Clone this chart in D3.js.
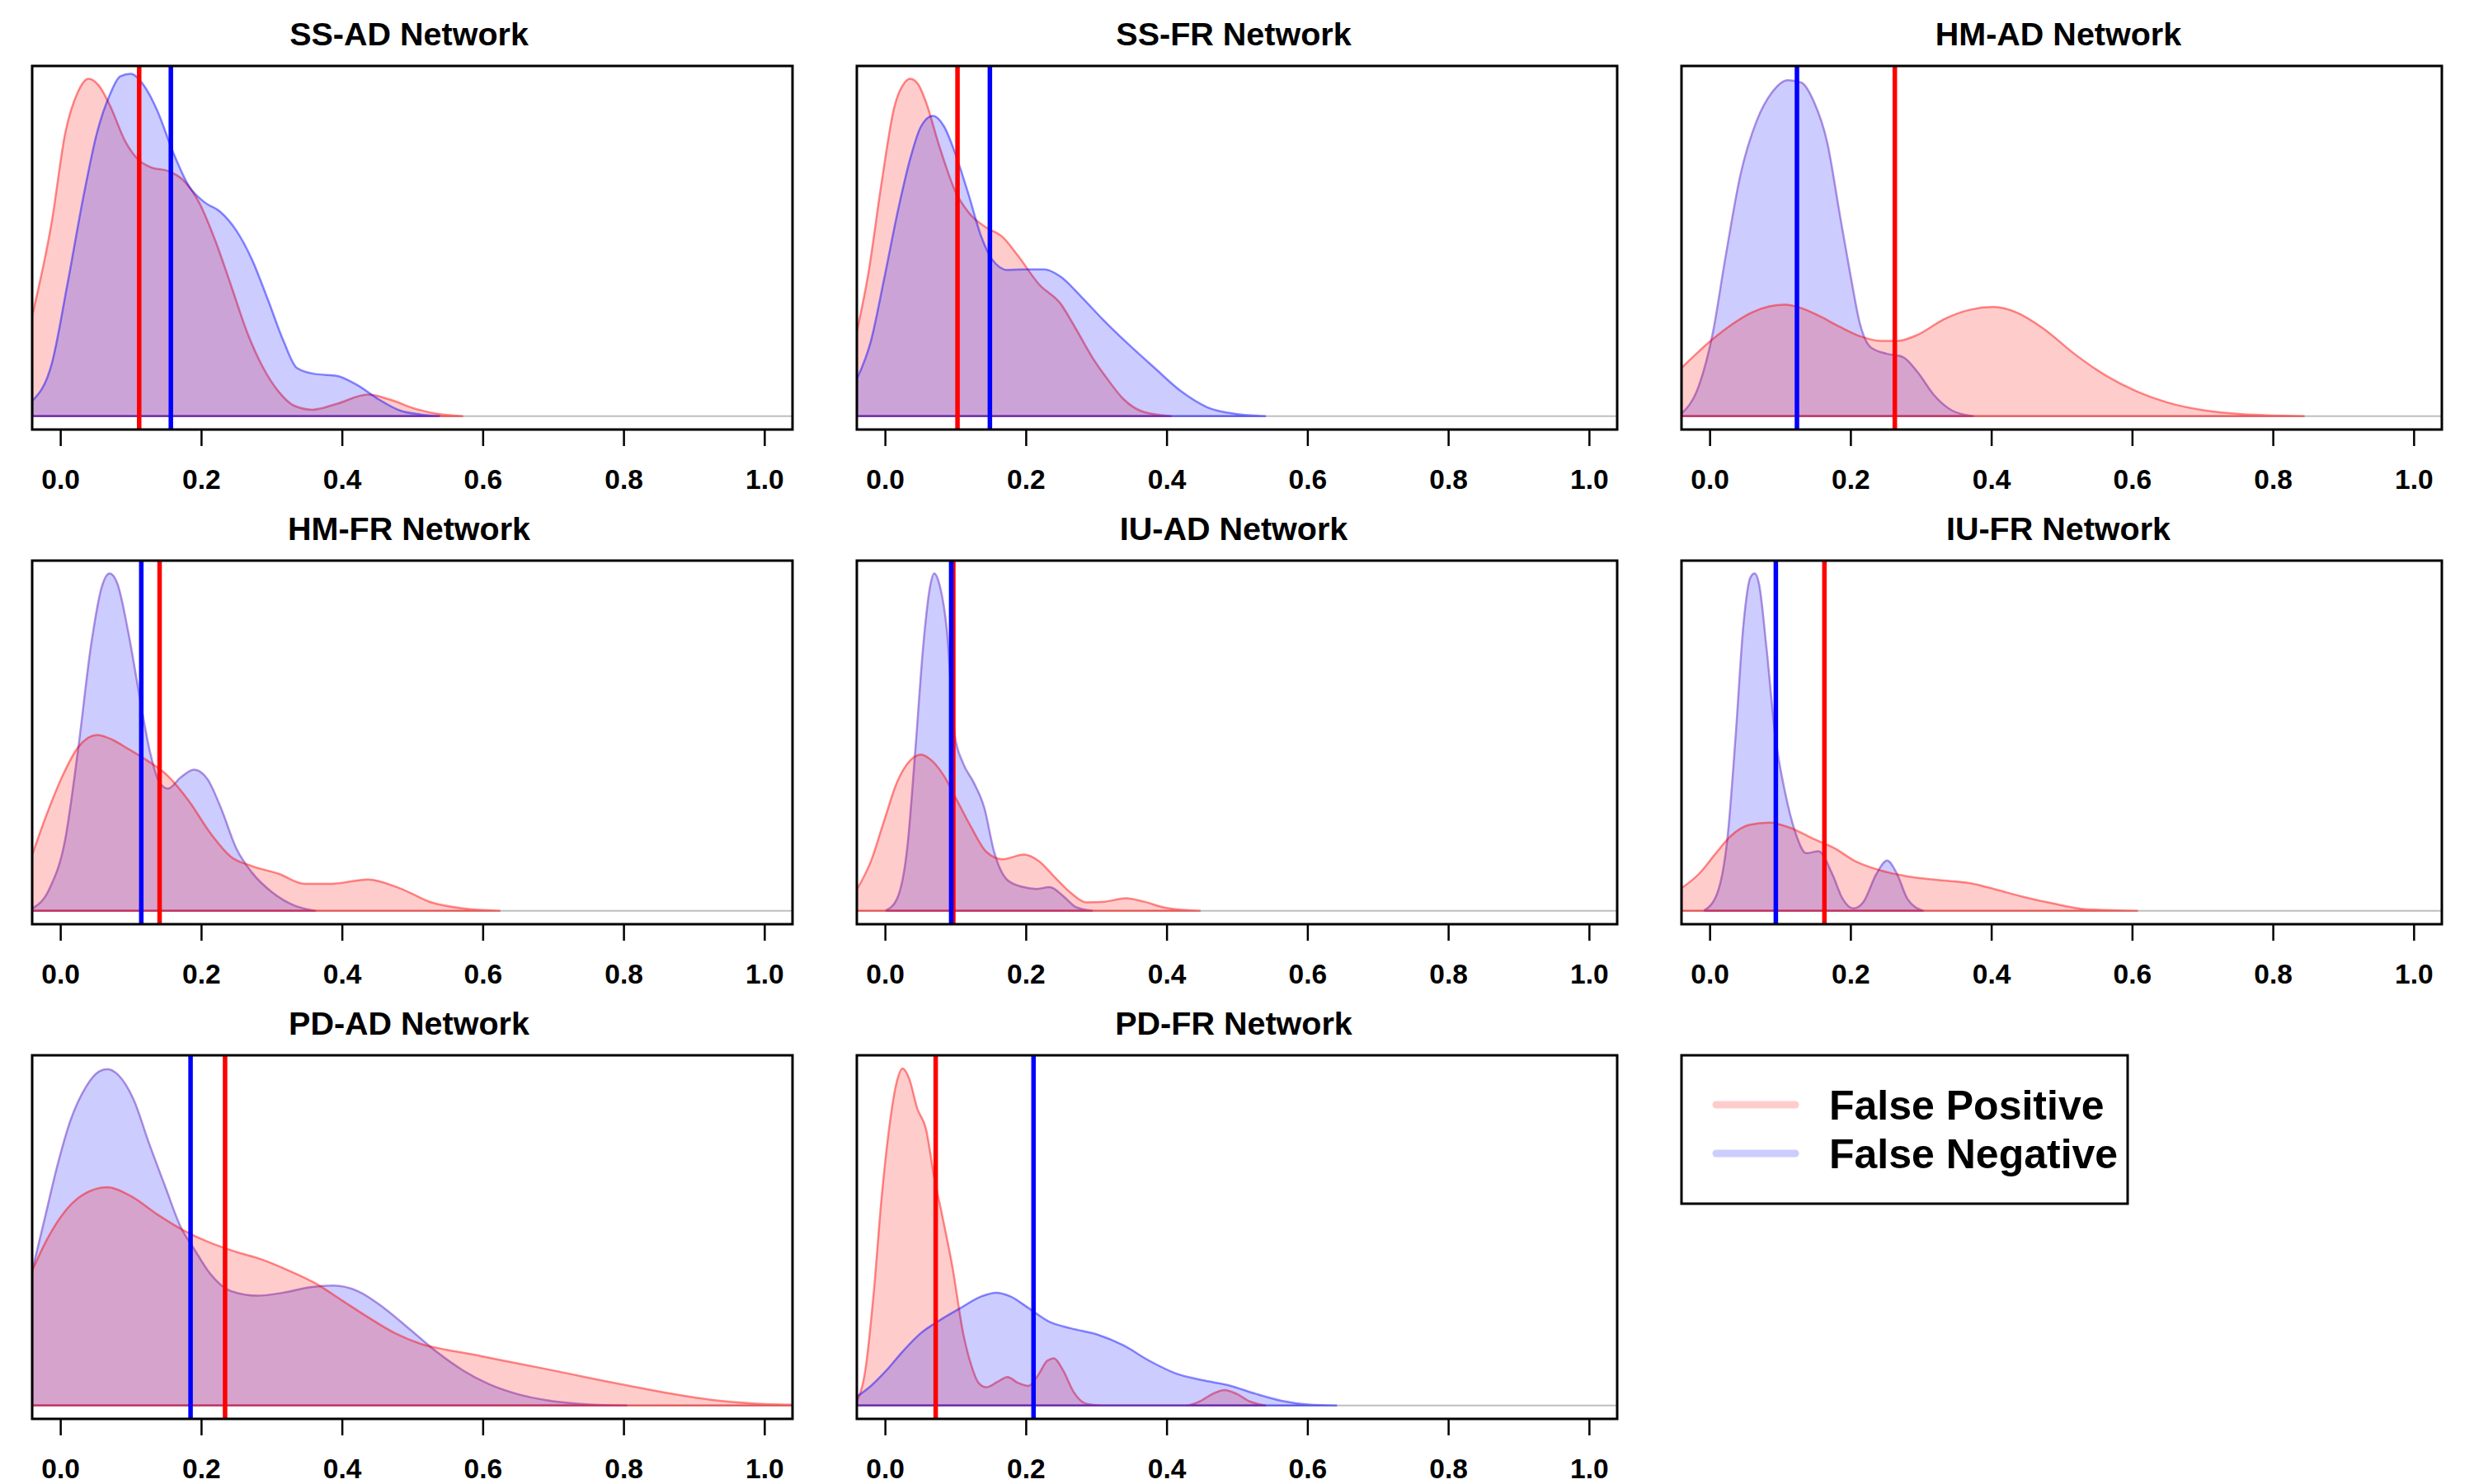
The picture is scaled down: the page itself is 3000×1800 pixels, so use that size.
<html><head>
<title>False positive / false negative densities</title>
<script src="https://d3js.org/d3.v7.min.js"></script>
<style>
  body { margin: 0; background: white; }
  text { font-family: "Liberation Sans", Arial, sans-serif; font-weight: bold; }
</style>
</head>
<body>
<svg id="plot" width="3000" height="1800"></svg>

<script>

// ------ DATA (density scaled so the panel max ~ 1) ------
const panelTitles = ["SS-AD Network", "SS-FR Network", "HM-AD Network",
                     "HM-FR Network", "IU-AD Network", "IU-FR Network",
                     "PD-AD Network", "PD-FR Network"];
const tickValues = [0.0, 0.2, 0.4, 0.6, 0.8, 1.0];
const legendLabels = ["False Positive", "False Negative"];

// mean lines
const fpMeans = [0.112, 0.103, 0.263, 0.141, 0.097, 0.163, 0.234, 0.072];
const fnMeans = [0.157, 0.149, 0.124, 0.115, 0.094, 0.094, 0.185, 0.211];
// which polygon was drawn last in each panel
const topSeries = ["FN", "FN", "FP", "FP", "FP", "FP", "FP", "FN"];

const ssadFP = [[-0.04,0.298],[-0.012,0.579],[0.007,0.841],[0.025,0.963],[0.040,1.002],[0.055,0.981],
  [0.070,0.925],[0.093,0.813],[0.111,0.761],[0.130,0.738],[0.153,0.728],[0.175,0.700],[0.197,0.635],
  [0.220,0.522],[0.242,0.391],[0.265,0.251],[0.287,0.148],[0.310,0.073],[0.332,0.031],[0.358,0.019],
  [0.392,0.036],[0.437,0.064],[0.467,0.050],[0.504,0.022],[0.534,0.007],[0.571,0]];
const ssadFN = [[-0.04,0.045],[-0.012,0.157],[0.010,0.391],[0.033,0.654],[0.052,0.841],[0.070,0.953],
  [0.085,1.009],[0.100,1.017],[0.119,0.981],[0.138,0.906],[0.160,0.785],[0.183,0.682],[0.205,0.635],
  [0.227,0.607],[0.250,0.551],[0.272,0.466],[0.295,0.345],[0.317,0.223],[0.336,0.143],[0.362,0.125],
  [0.392,0.120],[0.422,0.092],[0.452,0.050],[0.482,0.017],[0.512,0.005],[0.538,0]];

const ssfrFP = [[-0.04,0.251],[-0.024,0.419],[-0.005,0.691],[0.013,0.916],[0.028,0.991],[0.036,1.002],
  [0.047,0.986],[0.058,0.934],[0.077,0.803],[0.099,0.672],[0.122,0.597],[0.144,0.560],[0.167,0.532],
  [0.189,0.476],[0.219,0.391],[0.249,0.335],[0.271,0.260],[0.294,0.176],[0.316,0.110],[0.339,0.050],
  [0.368,0.012],[0.406,0]];
const ssfrFN = [[-0.04,0.110],[-0.020,0.223],[-0.001,0.410],[0.017,0.597],[0.036,0.766],[0.051,0.860],
  [0.068,0.892],[0.084,0.860],[0.099,0.785],[0.118,0.663],[0.137,0.532],[0.152,0.466],[0.174,0.434],
  [0.197,0.436],[0.226,0.436],[0.249,0.415],[0.279,0.354],[0.309,0.288],[0.346,0.213],[0.383,0.143],
  [0.421,0.073],[0.458,0.026],[0.496,0.007],[0.540,0]];

const hmadFP = [[-0.04,0.143],[-0.019,0.185],[0.004,0.228],[0.030,0.270],[0.059,0.307],[0.085,0.326],
  [0.107,0.331],[0.130,0.321],[0.155,0.298],[0.185,0.265],[0.214,0.237],[0.244,0.223],[0.266,0.223],
  [0.296,0.242],[0.333,0.288],[0.370,0.316],[0.403,0.324],[0.437,0.307],[0.474,0.260],[0.518,0.185],
  [0.563,0.120],[0.607,0.073],[0.651,0.040],[0.703,0.017],[0.755,0.006],[0.844,0]];
const hmadFN = [[-0.04,0.007],[-0.015,0.092],[0.004,0.242],[0.022,0.466],[0.044,0.719],[0.067,0.878],
  [0.089,0.963],[0.111,0.998],[0.130,0.991],[0.148,0.934],[0.167,0.813],[0.185,0.597],[0.200,0.419],
  [0.214,0.270],[0.229,0.204],[0.252,0.185],[0.274,0.176],[0.296,0.129],[0.318,0.064],[0.344,0.017],
  [0.374,0]];

const hmfrFP = [[-0.04,0.166],[-0.019,0.288],[0.003,0.400],[0.025,0.485],[0.052,0.522],[0.074,0.508],
  [0.097,0.480],[0.123,0.447],[0.153,0.400],[0.183,0.325],[0.213,0.231],[0.242,0.161],[0.272,0.133],
  [0.310,0.110],[0.347,0.080],[0.385,0.080],[0.437,0.093],[0.482,0.067],[0.527,0.025],[0.572,0.007],
  [0.624,0]];
const hmfrFN = [[-0.04,0.007],[-0.016,0.063],[0.007,0.213],[0.025,0.475],[0.044,0.794],[0.059,0.963],
  [0.070,1.002],[0.081,0.972],[0.097,0.822],[0.112,0.644],[0.127,0.475],[0.141,0.381],[0.153,0.363],
  [0.171,0.396],[0.190,0.419],[0.209,0.391],[0.228,0.306],[0.250,0.185],[0.272,0.114],[0.302,0.053],
  [0.332,0.016],[0.362,0]];

const iuadFP = [[-0.04,0.063],[-0.020,0.147],[-0.001,0.269],[0.017,0.381],[0.036,0.447],[0.051,0.464],
  [0.066,0.447],[0.084,0.400],[0.103,0.325],[0.122,0.250],[0.144,0.175],[0.167,0.153],[0.197,0.167],
  [0.219,0.147],[0.241,0.100],[0.264,0.053],[0.286,0.025],[0.312,0.027],[0.342,0.037],[0.368,0.027],
  [0.398,0.009],[0.447,0]];
const iuadFN = [[0.002,0.002],[0.017,0.035],[0.032,0.194],[0.043,0.475],[0.055,0.803],[0.064,0.963],
  [0.070,1.002],[0.077,0.972],[0.088,0.831],[0.099,0.522],[0.111,0.438],[0.126,0.381],[0.141,0.306],
  [0.155,0.175],[0.174,0.091],[0.197,0.070],[0.215,0.065],[0.234,0.070],[0.253,0.044],[0.271,0.011],
  [0.294,0]];

const iufrFP = [[-0.04,0.067],[-0.015,0.110],[0.007,0.166],[0.030,0.222],[0.056,0.255],[0.085,0.262],
  [0.115,0.246],[0.148,0.213],[0.178,0.185],[0.207,0.147],[0.244,0.119],[0.281,0.102],[0.326,0.091],
  [0.370,0.082],[0.407,0.063],[0.444,0.042],[0.489,0.021],[0.533,0.005],[0.607,0]];
const iufrFN = [[-0.007,0.002],[0.011,0.053],[0.026,0.231],[0.037,0.522],[0.048,0.850],[0.058,0.991],
  [0.064,1.002],[0.070,0.972],[0.081,0.775],[0.093,0.522],[0.107,0.353],[0.122,0.231],[0.137,0.171],
  [0.155,0.177],[0.174,0.110],[0.189,0.035],[0.204,0.007],[0.218,0.025],[0.237,0.110],[0.252,0.149],
  [0.266,0.110],[0.281,0.035],[0.303,0]];

const pdadFP = [[-0.04,0.400],[-0.019,0.493],[0.003,0.567],[0.033,0.627],[0.067,0.648],[0.100,0.622],
  [0.138,0.567],[0.175,0.520],[0.213,0.483],[0.250,0.456],[0.287,0.433],[0.325,0.400],[0.362,0.363],
  [0.400,0.312],[0.437,0.262],[0.475,0.215],[0.512,0.183],[0.549,0.165],[0.587,0.151],[0.632,0.132],
  [0.676,0.114],[0.721,0.095],[0.774,0.072],[0.826,0.051],[0.879,0.031],[0.931,0.015],[0.983,0.006],
  [1.040,0.002]];
const pdadFN = [[-0.04,0.400],[-0.023,0.548],[-0.004,0.714],[0.014,0.844],[0.036,0.945],[0.055,0.992],
  [0.067,0.999],[0.082,0.982],[0.104,0.909],[0.126,0.779],[0.149,0.650],[0.171,0.530],[0.190,0.465],
  [0.213,0.391],[0.242,0.340],[0.280,0.326],[0.317,0.335],[0.355,0.351],[0.388,0.356],[0.422,0.340],
  [0.460,0.289],[0.497,0.225],[0.534,0.160],[0.572,0.104],[0.609,0.063],[0.647,0.035],[0.692,0.015],
  [0.737,0.005],[0.804,0]];

const pdfrFP = [[-0.04,0.012],[-0.028,0.104],[-0.016,0.335],[-0.005,0.613],[0.006,0.825],[0.016,0.955],
  [0.025,1.001],[0.034,0.973],[0.046,0.881],[0.058,0.823],[0.070,0.677],[0.081,0.567],[0.096,0.409],
  [0.111,0.215],[0.122,0.123],[0.133,0.067],[0.144,0.054],[0.159,0.069],[0.174,0.084],[0.189,0.067],
  [0.204,0.058],[0.219,0.095],[0.230,0.132],[0.240,0.140],[0.253,0.104],[0.268,0.040],[0.286,0.005],
  [0.309,0],[0.428,0],[0.447,0.012],[0.466,0.035],[0.482,0.046],[0.499,0.035],[0.518,0.012],[0.540,0]];
const pdfrFN = [[-0.04,0.026],[-0.020,0.058],[0.002,0.104],[0.025,0.160],[0.051,0.215],[0.077,0.252],
  [0.107,0.289],[0.137,0.324],[0.158,0.335],[0.178,0.324],[0.204,0.289],[0.234,0.248],[0.264,0.229],
  [0.301,0.211],[0.339,0.178],[0.376,0.132],[0.413,0.095],[0.451,0.075],[0.488,0.060],[0.526,0.035],
  [0.563,0.014],[0.600,0.003],[0.641,0]];

const fpSeries = [ssadFP, ssfrFP, hmadFP, hmfrFP, iuadFP, iufrFP, pdadFP, pdfrFP];
const fnSeries = [ssadFN, ssfrFN, hmadFN, hmfrFN, iuadFN, iufrFN, pdadFN, pdfrFN];


// ------ LAYOUT ------
const svg = d3.select("svg#plot");
const colLeft = [39, 1039, 2039];
const rowTop = [80, 680, 1280];
const panelWidth = 922;
const panelHeight = 441;

const fpFill = "rgba(255,0,0,0.2)";
const fnFill = "rgba(0,0,255,0.2)";

svg.append("rect").attr("width", 3000).attr("height", 1800).attr("fill", "white");

panelTitles.forEach((title, i) => {
  const left = colLeft[i % 3];
  const top = rowTop[Math.floor(i / 3)];
  const bottom = top + panelHeight;

  const x = d3.scaleLinear().domain([-0.04, 1.04]).range([left, left + panelWidth]);
  const y = d3.scaleLinear().domain([-0.04, 1.04]).range([bottom, top]);

  let g = svg.append("g").attr("class", "panel");

  // clip to the plot box like R does
  g.append("clipPath").attr("id", "clip" + i)
   .append("rect")
   .attr("x", left).attr("y", top)
   .attr("width", panelWidth).attr("height", panelHeight);

  let inner = g.append("g").attr("clip-path", "url(#clip" + i + ")");

  // zero line of the density plot
  inner.append("line")
       .attr("x1", x(-0.04)).attr("x2", x(1.04))
       .attr("y1", y(0)).attr("y2", y(0))
       .attr("stroke", "#bebebe")
       .attr("stroke-width", 2);

  const area = d3.area()
                 .x(d => x(d[0]))
                 .y0(y(0))
                 .y1(d => y(d[1]))
                 .curve(d3.curveMonotoneX);

  const redOnTop = topSeries[i] === "FP";
  const fpLayer = {data: fpSeries[i], fill: fpFill, stroke: "rgba(255,0,0,0.45)"};
  const fnLayer = {data: fnSeries[i], fill: fnFill,
                   stroke: redOnTop ? "rgba(110,60,200,0.55)" : "rgba(0,0,255,0.45)"};
  const layers = redOnTop ? [fnLayer, fpLayer] : [fpLayer, fnLayer];

  layers.forEach(l => {
    inner.append("path")
         .attr("d", area(l.data))
         .attr("fill", l.fill)
         .attr("stroke", l.stroke)
         .attr("stroke-width", 2.5)
         .attr("stroke-linejoin", "round");
  });

  // mean lines
  [[fpMeans[i], "#ff0000"], [fnMeans[i], "#0000ff"]].forEach(m => {
    inner.append("line")
         .attr("x1", x(m[0])).attr("x2", x(m[0]))
         .attr("y1", top).attr("y2", bottom)
         .attr("stroke", m[1])
         .attr("stroke-width", 5.5);
  });

  // box
  g.append("rect")
   .attr("x", left).attr("y", top)
   .attr("width", panelWidth).attr("height", panelHeight)
   .attr("fill", "none")
   .attr("stroke", "black")
   .attr("stroke-width", 3);

  // x axis
  let axis = g.append("g")
              .attr("transform", "translate(0," + bottom + ")")
              .call(d3.axisBottom(x)
                      .tickValues(tickValues)
                      .tickFormat(d3.format(".1f"))
                      .tickSize(20)
                      .tickPadding(28));
  axis.select(".domain").remove();
  axis.selectAll(".tick line").attr("stroke", "black").attr("stroke-width", 2.5);
  axis.selectAll(".tick text")
      .attr("fill", "black")
      .style("font-size", "33.5px")
      .style("font-family", "'Liberation Sans', Arial, sans-serif")
      .style("font-weight", "bold");

  // title
  g.append("text")
   .attr("x", left + panelWidth / 2 - 4)
   .attr("y", top - 25)
   .attr("text-anchor", "middle")
   .style("font-size", "39.5px")
   .text(title);
});


// ------ LEGEND ------
let legend = svg.append("g").attr("class", "legend");
const legendColors = [fpFill, fnFill];

legend.append("rect")
      .attr("x", 2039).attr("y", 1280)
      .attr("width", 541).attr("height", 180)
      .attr("fill", "white")
      .attr("stroke", "black")
      .attr("stroke-width", 3);

legendLabels.forEach((label, k) => {
  const ly = 1340 + k * 59;
  legend.append("line")
        .attr("x1", 2081).attr("x2", 2177)
        .attr("y1", ly).attr("y2", ly)
        .attr("stroke", legendColors[k])
        .attr("stroke-width", 9)
        .attr("stroke-linecap", "round");
  legend.append("text")
        .attr("x", 2218)
        .attr("y", ly + 18)
        .style("font-size", "50px")
        .text(label);
});

</script>
</body>
</html>
